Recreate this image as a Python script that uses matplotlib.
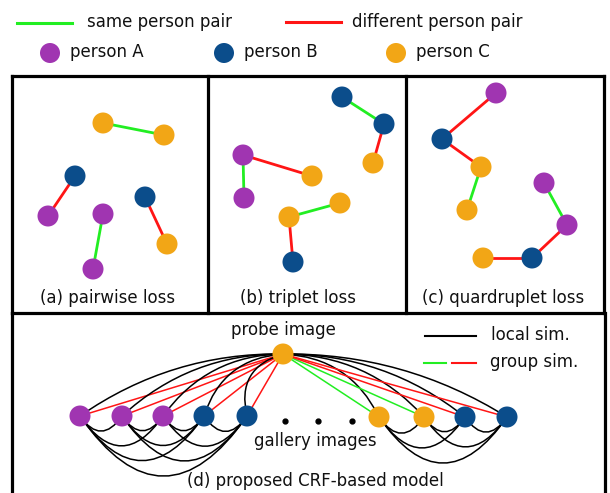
import matplotlib
matplotlib.use('Agg')
import matplotlib.pyplot as plt
from matplotlib.path import Path
from matplotlib.patches import PathPatch, Circle
import numpy as np

# ---------------- data ----------------
person_names = ['A', 'B', 'C']
person_colors = {'A': '#a035b1', 'B': '#0b4d8b', 'C': '#f2a616'}
same_color = '#22ee22'
diff_color = '#ff1515'

# panel (a) pairwise loss
a_x = [103, 164, 75, 48, 103, 93, 145, 167]
a_y = [123, 135, 176, 216, 214, 269, 197, 244]
a_person = ['C', 'C', 'B', 'A', 'A', 'A', 'B', 'C']
a_edges = [(0, 1), (2, 3), (4, 5), (6, 7)]

# panel (b) triplet loss
b_x = [342, 384, 373, 243, 244, 312, 340, 289, 293]
b_y = [97, 124, 163, 155, 198, 176, 203, 217, 262]
b_person = ['B', 'B', 'C', 'A', 'A', 'C', 'C', 'C', 'B']
b_edges = [(0, 1), (1, 2), (3, 4), (3, 5), (6, 7), (7, 8)]

# panel (c) quadruplet loss
c_x = [496, 442, 481, 467, 544, 567, 532, 483]
c_y = [93, 139, 167, 210, 183, 225, 258, 258]
c_person = ['A', 'B', 'C', 'C', 'A', 'A', 'B', 'C']
c_edges = [(0, 1), (1, 2), (2, 3), (4, 5), (5, 6), (6, 7)]

# panel (d) CRF model
probe_x, probe_y, probe_person = 283, 354, 'C'
left_x = [80, 122, 163, 204, 247]
left_y = [416, 416, 416, 416, 416]
left_person = ['A', 'A', 'A', 'B', 'B']
right_x = [379, 424, 465, 507]
right_y = [417, 417, 417, 417]
right_person = ['C', 'C', 'B', 'B']
dots_x = [285, 318, 352]
dots_y = [421, 421, 421]

captions = ['(a) pairwise loss', '(b) triplet loss', '(c) quardruplet loss',
            '(d) proposed CRF-based model']

# ---------------- drawing ----------------
W, H = 610, 493
fig = plt.figure(figsize=(W / 100, H / 100), dpi=100)
ax = fig.add_axes([0, 0, 1, 1])
ax.set_xlim(0, W)
ax.set_ylim(H, 0)
ax.axis('off')

R = 10.5
FS = 12
TXT = '#111111'


def node(x, y, p, r=R):
    ax.add_patch(Circle((x, y), r, facecolor=person_colors[p], edgecolor='none', zorder=5))


def edge_color(p, q):
    return same_color if p == q else diff_color


def panel(xs, ys, ps, edges):
    for i, j in edges:
        ax.plot([xs[i], xs[j]], [ys[i], ys[j]], color=edge_color(ps[i], ps[j]),
                lw=2.0, zorder=2, solid_capstyle='butt')
    for x, y, p in zip(xs, ys, ps):
        node(x, y, p)


def quad(p0, p1, offset, up=True, color='black', lw=1.0):
    p0 = np.array(p0, float)
    p1 = np.array(p1, float)
    d = p1 - p0
    perp = np.array([-d[1], d[0]])
    perp = perp / np.hypot(*perp)
    if (perp[1] > 0) == up:
        perp = -perp
    ctrl = (p0 + p1) / 2 + offset * perp
    path = Path([p0, ctrl, p1], [Path.MOVETO, Path.CURVE3, Path.CURVE3])
    ax.add_patch(PathPatch(path, facecolor='none', edgecolor=color, lw=lw, zorder=2))


# top legend
ax.plot([17, 72], [23, 23], color=same_color, lw=2.2)
ax.text(87, 22, 'same person pair', fontsize=FS, va='center', ha='left', color=TXT)
ax.plot([286, 341], [22, 22], color=diff_color, lw=2.2)
ax.text(352, 22, 'different person pair', fontsize=FS, va='center', ha='left', color=TXT)
leg_x = [50, 224, 396]
for lx, p in zip(leg_x, person_names):
    node(lx, 53, p, r=10)
    ax.text(lx + 20, 52, 'person ' + p, fontsize=FS, va='center', ha='left', color=TXT)

# boxes
blw = 2.3
ax.plot([11.5, 604], [75.5, 75.5], color='black', lw=blw, zorder=6)
ax.plot([11.5, 604], [313, 313], color='black', lw=blw, zorder=6)
for bx in [11.5, 208, 406, 604]:
    ax.plot([bx, bx], [75.5, 313], color='black', lw=blw, zorder=6)
for bx in [11.5, 604.5]:
    ax.plot([bx, bx], [313, 500], color='black', lw=blw, zorder=6)

# panels a, b, c
panel(a_x, a_y, a_person, a_edges)
panel(b_x, b_y, b_person, b_edges)
panel(c_x, c_y, c_person, c_edges)
ax.text(108, 298, captions[0], fontsize=FS, ha='center', va='center', color=TXT)
ax.text(298, 298, captions[1], fontsize=FS, ha='center', va='center', color=TXT)
ax.text(503, 298, captions[2], fontsize=FS, ha='center', va='center', color=TXT)

# panel d
for gx_list, gy_list, gp_list in [(left_x, left_y, left_person), (right_x, right_y, right_person)]:
    for gx, gy, gp in zip(gx_list, gy_list, gp_list):
        quad((gx, gy), (probe_x, probe_y), 34, up=True, lw=1.1)
        ax.plot([gx, probe_x], [gy, probe_y], color=edge_color(gp, probe_person),
                lw=1.1, zorder=2)
    n = len(gx_list)
    for i in range(n):
        for j in range(i + 1, n):
            d = abs(gx_list[j] - gx_list[i])
            quad((gx_list[i], gy_list[i]), (gx_list[j], gy_list[j]), 0.72 * d,
                 up=False, lw=1.1)
    for gx, gy, gp in zip(gx_list, gy_list, gp_list):
        node(gx, gy, gp)
node(probe_x, probe_y, probe_person)
ax.plot(dots_x, dots_y, 'o', color='black', ms=3.5, zorder=5)

ax.text(283, 330, 'probe image', fontsize=FS, ha='center', va='center', color=TXT)
ax.text(315, 441, 'gallery images', fontsize=FS, ha='center', va='center', color=TXT)
ax.text(315, 481, captions[3], fontsize=FS, ha='center', va='center', color=TXT)

# panel d legend
ax.plot([425, 476], [336, 336], color='black', lw=1.5)
ax.text(491, 335, 'local sim.', fontsize=FS, ha='left', va='center', color=TXT)
ax.plot([424, 446], [363, 363], color=same_color, lw=1.5)
ax.plot([452, 476], [363, 363], color=diff_color, lw=1.5)
ax.text(490, 362, 'group sim.', fontsize=FS, ha='left', va='center', color=TXT)

fig.savefig('out.png', dpi=100)
